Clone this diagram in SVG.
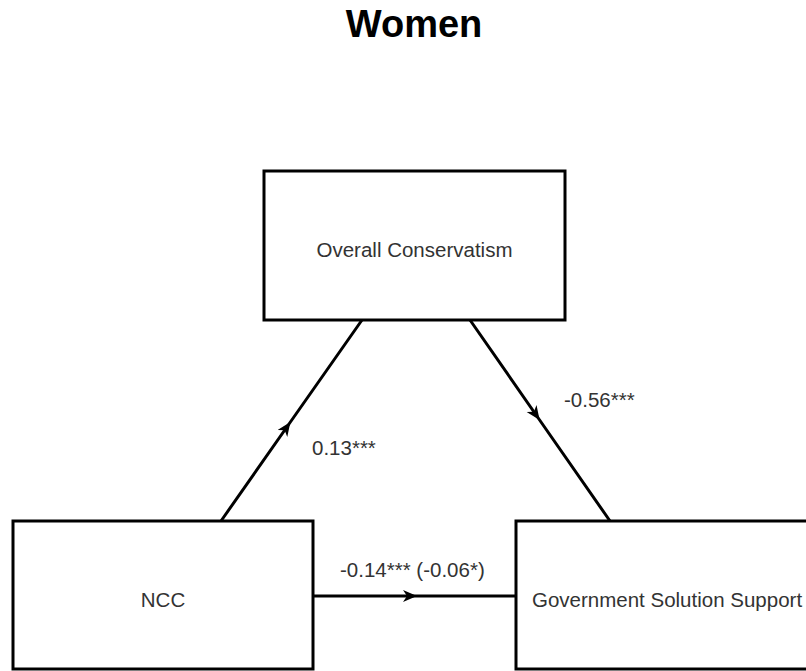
<svg xmlns="http://www.w3.org/2000/svg" width="806" height="671" viewBox="0 0 806 671">
  <defs>
    <marker id="arr" markerUnits="userSpaceOnUse" markerWidth="16" markerHeight="14" refX="14" refY="6" orient="auto">
      <path d="M0,0 L14,6 L0,12 L4,6 Z" fill="#000"/>
    </marker>
    <style>
      .box { fill: #fff; stroke: #000; stroke-width: 3; }
      .lbl { font-family: "Liberation Sans", Arial, sans-serif; font-size: 20.5px; fill: #333; }
      .edge { fill: none; stroke: #000; stroke-width: 3; marker-mid: url(#arr); }
      .title { font-family: "Liberation Sans", Arial, sans-serif; font-size: 38px; font-weight: bold; fill: #000; }
    </style>
  </defs>
  <rect width="806" height="671" fill="#fff"/>
  <text class="title" x="414" y="37" text-anchor="middle">Women</text>

  <g id="connectors">
    <path class="edge" d="M221,521 L290.4,422 L362,320"/>
    <path class="edge" d="M470,320 L539.6,420 L610,521"/>
    <path class="edge" d="M313,596 L417,596 L516,596"/>
    <text class="lbl" x="312" y="455">0.13***</text>
    <text class="lbl" x="564" y="407">-0.56***</text>
    <text class="lbl" x="340" y="577">-0.14*** (-0.06*)</text>
  </g>

  <g id="node-conservatism">
    <rect class="box" x="264" y="171" width="301" height="149"/>
    <text class="lbl" x="414.5" y="257" text-anchor="middle">Overall Conservatism</text>
  </g>
  <g id="node-ncc">
    <rect class="box" x="13" y="521" width="300" height="148"/>
    <text class="lbl" x="163" y="607" text-anchor="middle">NCC</text>
  </g>
  <g id="node-gss">
    <rect class="box" x="516" y="521" width="300" height="148"/>
    <text class="lbl" x="532" y="607">Government Solution Support</text>
  </g>
</svg>
